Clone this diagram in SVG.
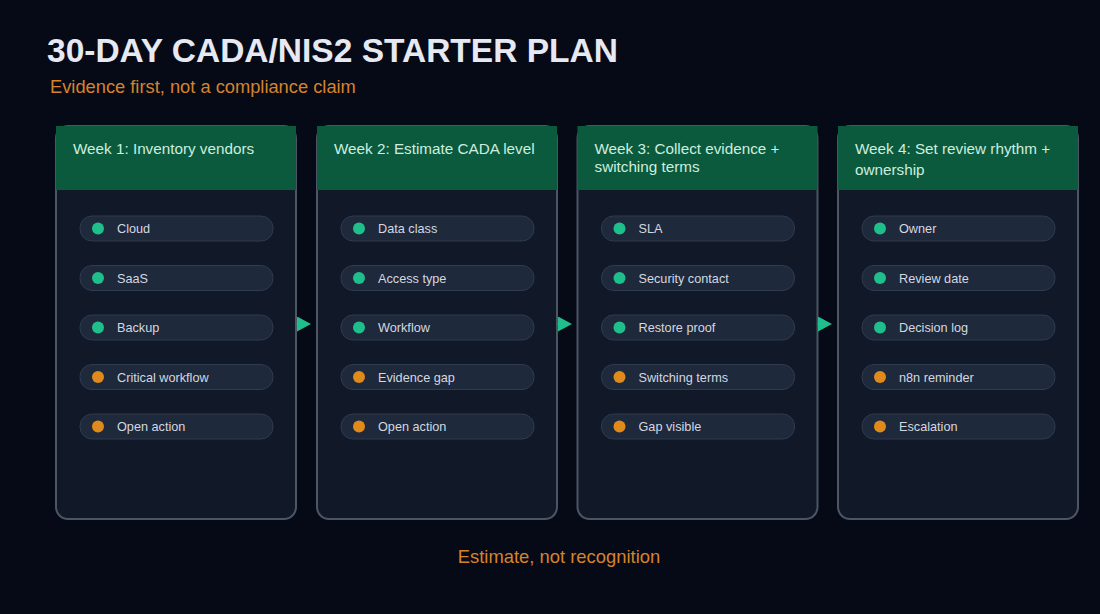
<svg xmlns="http://www.w3.org/2000/svg" width="1100" height="614" viewBox="0 0 1100 614">
<style>
.title{font-family:"Liberation Sans",Arial,sans-serif;font-size:33.5px;font-weight:bold;fill:#e6e9f2}
.sub{font-family:"Liberation Sans",Arial,sans-serif;font-size:18.3px;fill:#d6832a}
.foot{font-family:"Liberation Sans",Arial,sans-serif;font-size:18.4px;fill:#d6832a}
.card{fill:#111827;stroke:#4b5563;stroke-width:2}
.head{fill:#0b5a3e}
.htxt{font-family:"Liberation Sans",Arial,sans-serif;font-size:15.25px;fill:#cdeede}
.pill{fill:#1e293b;stroke:#2f3b4e;stroke-width:1}
.ptxt{font-family:"Liberation Sans",Arial,sans-serif;font-size:12.7px;fill:#d4d8e0}
.g{fill:#1fbf8c}
.o{fill:#e08a1c}
.conn{stroke:#1fbf8c;stroke-width:1}
</style>
<defs>
<marker id="arr" viewBox="0 0 14 15" refX="0" refY="7.5" markerWidth="14" markerHeight="15" markerUnits="userSpaceOnUse" orient="auto">
<path d="M0,0 L14,7.5 L0,15z" fill="#1fbf8c"/>
</marker>
</defs>
<rect width="1100" height="614" fill="#060a17"/>
<text class="title" x="47" y="62">30-DAY CADA/NIS2 STARTER PLAN</text>
<text class="sub" x="50" y="93">Evidence first, not a compliance claim</text>

<g id="week1" transform="translate(56,0)">
<rect class="card" x="0" y="126" width="240" height="393" rx="12"/>
<rect class="head" x="0" y="126" width="240" height="64"/>
<text class="htxt" x="17" y="154">Week 1: Inventory vendors</text>
<rect class="pill" x="24" y="216" width="193" height="25" rx="12"/><circle class="g" cx="42" cy="228.5" r="6"/><text class="ptxt" x="61" y="233">Cloud</text>
<rect class="pill" x="24" y="265.5" width="193" height="25" rx="12"/><circle class="g" cx="42" cy="278" r="6"/><text class="ptxt" x="61" y="282.5">SaaS</text>
<rect class="pill" x="24" y="315" width="193" height="25" rx="12"/><circle class="g" cx="42" cy="327.5" r="6"/><text class="ptxt" x="61" y="332">Backup</text>
<rect class="pill" x="24" y="364.5" width="193" height="25" rx="12"/><circle class="o" cx="42" cy="377" r="6"/><text class="ptxt" x="61" y="381.5">Critical workflow</text>
<rect class="pill" x="24" y="414" width="193" height="25" rx="12"/><circle class="o" cx="42" cy="426.5" r="6"/><text class="ptxt" x="61" y="431">Open action</text>
</g>

<g id="week2" transform="translate(317,0)">
<rect class="card" x="0" y="126" width="240" height="393" rx="12"/>
<rect class="head" x="0" y="126" width="240" height="64"/>
<text class="htxt" x="17" y="154">Week 2: Estimate CADA level</text>
<rect class="pill" x="24" y="216" width="193" height="25" rx="12"/><circle class="g" cx="42" cy="228.5" r="6"/><text class="ptxt" x="61" y="233">Data class</text>
<rect class="pill" x="24" y="265.5" width="193" height="25" rx="12"/><circle class="g" cx="42" cy="278" r="6"/><text class="ptxt" x="61" y="282.5">Access type</text>
<rect class="pill" x="24" y="315" width="193" height="25" rx="12"/><circle class="g" cx="42" cy="327.5" r="6"/><text class="ptxt" x="61" y="332">Workflow</text>
<rect class="pill" x="24" y="364.5" width="193" height="25" rx="12"/><circle class="o" cx="42" cy="377" r="6"/><text class="ptxt" x="61" y="381.5">Evidence gap</text>
<rect class="pill" x="24" y="414" width="193" height="25" rx="12"/><circle class="o" cx="42" cy="426.5" r="6"/><text class="ptxt" x="61" y="431">Open action</text>
</g>

<g id="week3" transform="translate(577.5,0)">
<rect class="card" x="0" y="126" width="240" height="393" rx="12"/>
<rect class="head" x="0" y="126" width="240" height="64"/>
<text class="htxt" x="17" y="154">Week 3: Collect evidence +</text>
<text class="htxt" x="17" y="172">switching terms</text>
<rect class="pill" x="24" y="216" width="193" height="25" rx="12"/><circle class="g" cx="42" cy="228.5" r="6"/><text class="ptxt" x="61" y="233">SLA</text>
<rect class="pill" x="24" y="265.5" width="193" height="25" rx="12"/><circle class="g" cx="42" cy="278" r="6"/><text class="ptxt" x="61" y="282.5">Security contact</text>
<rect class="pill" x="24" y="315" width="193" height="25" rx="12"/><circle class="g" cx="42" cy="327.5" r="6"/><text class="ptxt" x="61" y="332">Restore proof</text>
<rect class="pill" x="24" y="364.5" width="193" height="25" rx="12"/><circle class="o" cx="42" cy="377" r="6"/><text class="ptxt" x="61" y="381.5">Switching terms</text>
<rect class="pill" x="24" y="414" width="193" height="25" rx="12"/><circle class="o" cx="42" cy="426.5" r="6"/><text class="ptxt" x="61" y="431">Gap visible</text>
</g>

<g id="week4" transform="translate(838,0)">
<rect class="card" x="0" y="126" width="240" height="393" rx="12"/>
<rect class="head" x="0" y="126" width="240" height="64"/>
<text class="htxt" x="17" y="154">Week 4: Set review rhythm +</text>
<text class="htxt" x="17" y="175">ownership</text>
<rect class="pill" x="24" y="216" width="193" height="25" rx="12"/><circle class="g" cx="42" cy="228.5" r="6"/><text class="ptxt" x="61" y="233">Owner</text>
<rect class="pill" x="24" y="265.5" width="193" height="25" rx="12"/><circle class="g" cx="42" cy="278" r="6"/><text class="ptxt" x="61" y="282.5">Review date</text>
<rect class="pill" x="24" y="315" width="193" height="25" rx="12"/><circle class="g" cx="42" cy="327.5" r="6"/><text class="ptxt" x="61" y="332">Decision log</text>
<rect class="pill" x="24" y="364.5" width="193" height="25" rx="12"/><circle class="o" cx="42" cy="377" r="6"/><text class="ptxt" x="61" y="381.5">n8n reminder</text>
<rect class="pill" x="24" y="414" width="193" height="25" rx="12"/><circle class="o" cx="42" cy="426.5" r="6"/><text class="ptxt" x="61" y="431">Escalation</text>
</g>

<g id="connectors">
<line class="conn" x1="296.5" y1="324" x2="297" y2="324" marker-end="url(#arr)"/>
<line class="conn" x1="557.5" y1="324" x2="558" y2="324" marker-end="url(#arr)"/>
<line class="conn" x1="817.5" y1="324" x2="818" y2="324" marker-end="url(#arr)"/>
</g>

<text class="foot" x="559" y="563" text-anchor="middle">Estimate, not recognition</text>
</svg>
